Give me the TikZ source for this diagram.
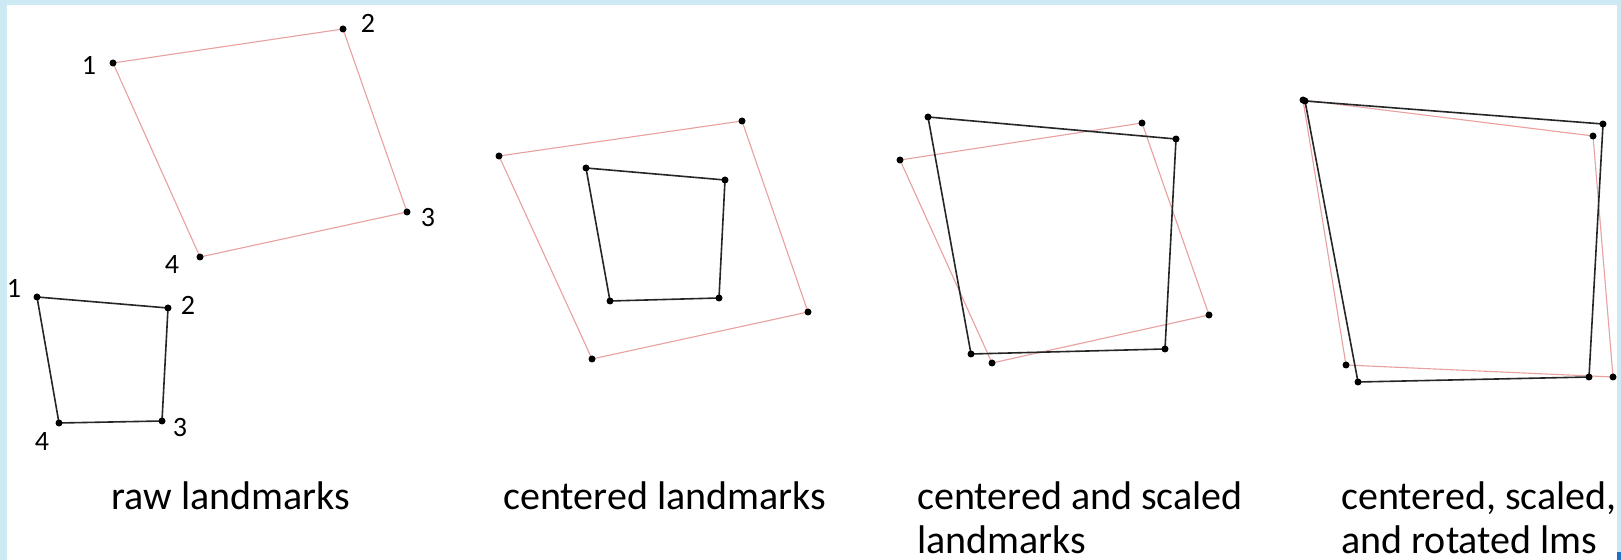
\documentclass[tikz,border=0pt]{standalone}
\usepackage{fontspec}
\setmainfont{Carlito}
\usetikzlibrary{positioning}

\definecolor{frameblue}{HTML}{CDE9F3}
\definecolor{markblue}{HTML}{1E6FC8}
\definecolor{meanred}{HTML}{E8A0A0}

\tikzset{
  redquad/.style={draw=meanred, line width=0.55pt, line join=round},
  blkquad/.style={draw=black!85, line width=0.8pt, line join=round},
  numlbl/.style={font=\fontsize{14}{14}\selectfont, inner sep=0pt},
  caption/.style={font=\fontsize{20}{22}\selectfont, inner sep=0pt, anchor=north west, align=left}
}

\begin{document}
\begin{tikzpicture}[x=0.5pt, y=-0.5pt]
  % Frame
  \fill[frameblue] (0,0) rectangle (1621,560);
  \fill[white] (7,5) rectangle (1617,560);
  \fill[markblue] (1617,552) rectangle (1621,560);
  \useasboundingbox (0,0) rectangle (1621,560);

  % Raw landmarks
  \coordinate (raw1) at (113,63);
  \coordinate (raw2) at (343,29);
  \coordinate (raw3) at (407,212);
  \coordinate (raw4) at (200,257);
  \coordinate (rwb1) at (37,297);
  \coordinate (rwb2) at (168,308);
  \coordinate (rwb3) at (162,421);
  \coordinate (rwb4) at (59,423);
  \draw[redquad] (raw1) -- (raw2) -- (raw3) -- (raw4) -- cycle;
  \draw[blkquad] (rwb1) -- (rwb2) -- (rwb3) -- (rwb4) -- cycle;

  \node[numlbl] (r1) at (89,65) {1};
  \node[numlbl] (r2) at (368,23) {2};
  \node[numlbl] (r3) at (428,218) {3};
  \node[numlbl] (r4) at (172,265) {4};
  \node[numlbl] (b1) at (14,288) {1};
  \node[numlbl] (b2) at (188,305) {2};
  \node[numlbl] (b3) at (180,428) {3};
  \node[numlbl] (b4) at (42,442) {4};

  % Centered landmarks
  \coordinate (cen1) at (499,156);
  \coordinate (cen2) at (742,121);
  \coordinate (cen3) at (808,312);
  \coordinate (cen4) at (592,359);
  \coordinate (cnb1) at (586,168);
  \coordinate (cnb2) at (725,180);
  \coordinate (cnb3) at (719,298);
  \coordinate (cnb4) at (610,301);
  \draw[redquad] (cen1) -- (cen2) -- (cen3) -- (cen4) -- cycle;
  \draw[blkquad] (cnb1) -- (cnb2) -- (cnb3) -- (cnb4) -- cycle;

  % Centered and scaled
  \coordinate (scl1) at (900,160);
  \coordinate (scl2) at (1142,123);
  \coordinate (scl3) at (1209,315);
  \coordinate (scl4) at (992,363);
  \coordinate (scb1) at (928,117);
  \coordinate (scb2) at (1176,139);
  \coordinate (scb3) at (1165,349);
  \coordinate (scb4) at (971,354);
  \draw[redquad] (scl1) -- (scl2) -- (scl3) -- (scl4) -- cycle;
  \draw[blkquad] (scb1) -- (scb2) -- (scb3) -- (scb4) -- cycle;

  % Centered, scaled and rotated
  \coordinate (rot1) at (1303,100);
  \coordinate (rot2) at (1593,136);
  \coordinate (rot3) at (1613,377);
  \coordinate (rot4) at (1346,365);
  \coordinate (rtb1) at (1305,101);
  \coordinate (rtb2) at (1603,124);
  \coordinate (rtb3) at (1589,377);
  \coordinate (rtb4) at (1358,382);
  \draw[redquad] (rot1) -- (rot2) -- (rot3) -- (rot4) -- cycle;
  \draw[blkquad] (rtb1) -- (rtb2) -- (rtb3) -- (rtb4) -- cycle;

  % Landmark dots
  \foreach \p in {raw1,raw2,raw3,raw4,rwb1,rwb2,rwb3,rwb4,
                  cen1,cen2,cen3,cen4,cnb1,cnb2,cnb3,cnb4,
                  scl1,scl2,scl3,scl4,scb1,scb2,scb3,scb4,
                  rot1,rot2,rot3,rot4,rtb1,rtb2,rtb3,rtb4}
    \fill (\p) circle (3.5);

  % Captions
  \node[caption] (cap1) at (111,481) {raw landmarks};
  \node[caption] (cap2) at (503,481) {centered landmarks};
  \node[caption] (cap3) at (917,481) {centered and scaled\\landmarks};
  \node[caption] (cap4) at (1341,481) {centered, scaled,\\and rotated lms};
\end{tikzpicture}
\end{document}
